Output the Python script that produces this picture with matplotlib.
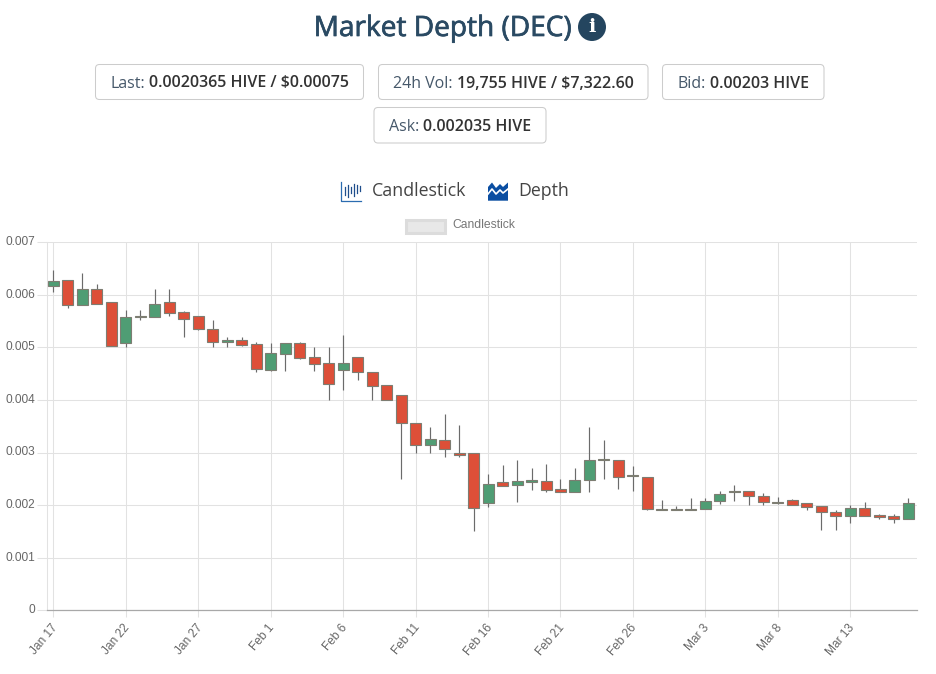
import numpy as np
import matplotlib
matplotlib.use("Agg")
import matplotlib.pyplot as plt
import matplotlib.patheffects as pe
from matplotlib.patches import Circle, FancyBboxPatch, Polygon, Rectangle
from matplotlib.transforms import ScaledTranslation

# values, x 0.001 HIVE
opens = [6.165, 6.29, 5.80, 6.12, 5.855, 5.09, 5.57, 5.58, 5.855, 5.665,
         5.60, 5.36, 5.095, 5.15, 5.057, 4.576, 4.873, 5.076, 4.81, 4.696,
         4.576, 4.823, 4.53, 4.28, 4.095, 3.563, 3.14, 3.234, 2.995, 3.0,
         2.05, 2.434, 2.377, 2.434, 2.465, 2.30, 2.245, 2.47, 2.85, 2.86,
         2.565, 2.538, 1.93, 1.925, 1.93, 1.924, 2.076, 2.25, 2.278, 2.177,
         2.055, 2.089, 2.038, 1.975, 1.867, 1.79, 1.95, 1.81, 1.79, 1.728]
closes = [6.266, 5.80, 6.12, 5.82, 5.02, 5.58, 5.585, 5.82, 5.66, 5.55,
          5.354, 5.095, 5.15, 5.05, 4.582, 4.886, 5.076, 4.797, 4.69, 4.31,
          4.696, 4.525, 4.27, 4.0, 3.557, 3.14, 3.266, 3.063, 2.96, 1.94,
          2.396, 2.358, 2.453, 2.47, 2.29, 2.245, 2.47, 2.868, 2.87, 2.54,
          2.55, 1.924, 1.915, 1.91, 1.915, 2.076, 2.22, 2.27, 2.165, 2.057,
          2.045, 2.0, 1.962, 1.861, 1.79, 1.95, 1.79, 1.772, 1.728, 2.038]
highs = [6.468, 6.29, 6.42, 6.215, 5.855, 5.72, 5.72, 6.11, 6.11, 5.70,
         5.60, 5.52, 5.19, 5.19, 5.095, 5.076, 5.076, 5.108, 5.0, 5.0,
         5.23, 4.823, 4.53, 4.28, 4.095, 3.563, 3.48, 3.728, 3.52, 3.0,
         2.585, 2.755, 2.868, 2.70, 2.79, 2.49, 2.70, 3.49, 3.233, 2.86,
         2.747, 2.538, 2.10, 1.987, 2.14, 2.133, 2.266, 2.386, 2.278, 2.228,
         2.152, 2.114, 2.038, 1.987, 1.905, 2.0, 2.063, 1.83, 1.83, 2.127]
lows = [6.057, 5.75, 5.80, 5.82, 5.02, 5.0, 5.52, 5.57, 5.595, 5.20,
        5.34, 5.01, 5.0, 5.03, 4.525, 4.56, 4.557, 4.78, 4.557, 4.0,
        4.20, 4.38, 4.0, 4.0, 2.5, 3.0, 3.0, 2.924, 2.92, 1.51,
        1.956, 2.358, 2.057, 2.29, 2.245, 2.245, 2.245, 2.258, 2.497, 2.31,
        2.26, 1.905, 1.905, 1.9, 1.905, 1.924, 2.013, 2.07, 2.006, 2.006,
        2.013, 1.995, 1.90, 1.52, 1.532, 1.652, 1.785, 1.734, 1.67, 1.728]

x_tick_days = [0, 5, 10, 15, 20, 25, 30, 35, 40, 45, 50, 55]
x_tick_labels = ["Jan 17", "Jan 22", "Jan 27", "Feb 1", "Feb 6", "Feb 11",
                 "Feb 16", "Feb 21", "Feb 26", "Mar 3", "Mar 8", "Mar 13"]
y_ticks = [0, 0.001, 0.002, 0.003, 0.004, 0.005, 0.006, 0.007]
y_tick_labels = ["0", "0.001", "0.002", "0.003", "0.004", "0.005", "0.006", "0.007"]

UI_FONT = "Open Sans"
CHART_FONT = "Liberation Sans"
GREEN = "#4f9d74"
RED = "#dd4f38"
GRID = "#e2e2e2"

W, H = 936, 674
fig = plt.figure(figsize=(W / 100, H / 100), dpi=100)

# chart
ax = fig.add_axes([46.5 / W, 1 - 610.3 / H, (917 - 46.5) / W, (610.3 - 242.3) / H])
days = np.arange(len(opens))
o = np.array(opens) / 1000
c = np.array(closes) / 1000
hi = np.array(highs) / 1000
lo = np.array(lows) / 1000
colors = [GREEN if b >= a else RED for a, b in zip(o, c)]

ax.vlines(days, lo, hi, color="#6b6b6b", lw=0.85, zorder=3)
ax.bar(days, np.maximum(np.abs(c - o), 0.00002), bottom=np.minimum(o, c), width=0.76,
       color=colors, edgecolor="#7d7d72", linewidth=0.8, zorder=4)

ax.set_xlim(-0.468, 59.6)
ax.set_ylim(0, 0.007)
ax.set_xticks(x_tick_days)
ax.set_xticklabels(x_tick_labels, rotation=50, ha="right", va="center", rotation_mode="anchor",
                   family=CHART_FONT, fontsize=8.6, color="#666666")
ax.set_yticks(y_ticks)
ax.set_yticklabels(y_tick_labels, family=CHART_FONT, fontsize=8.6, color="#666666")
ax.tick_params(axis="x", length=5, width=0.75, color=GRID, pad=6)
ax.tick_params(axis="y", length=7, width=0.75, color=GRID, pad=1)
ax.grid(True, color=GRID, lw=0.75)
ax.set_axisbelow(True)
for side in ["top", "right"]:
    ax.spines[side].set_visible(False)
ax.spines["left"].set_color(GRID)
ax.spines["left"].set_linewidth(0.75)
ax.spines["bottom"].set_color("#a8a8a8")
ax.spines["bottom"].set_linewidth(0.9)

# y labels sit a little above their gridlines in the reference, x labels a bit to the right
lift = ScaledTranslation(0, 1.7 / 100, fig.dpi_scale_trans)
for label in ax.get_yticklabels():
    label.set_transform(label.get_transform() + lift)
nudge = ScaledTranslation(2.0 / 100, 0, fig.dpi_scale_trans)
for label in ax.get_xticklabels():
    label.set_transform(label.get_transform() + nudge)

# page furniture around the chart, in pixel coords
ui = fig.add_axes([0, 0, 1, 1], zorder=5)
ui.set_xlim(0, W)
ui.set_ylim(H, 0)
ui.axis("off")
ui.patch.set_alpha(0)

ui.text(442.5, 29, "Market Depth (DEC)", family=UI_FONT, fontsize=20.2,
        color="#2a4a63", ha="center", va="center",
        path_effects=[pe.withStroke(linewidth=0.5, foreground="#2a4a63")])
ui.add_patch(Circle((592, 27), 14, color="#24455f", lw=0))
ui.text(592, 27, "i", family="DejaVu Serif", fontsize=14, weight="bold", color="white",
        ha="center", va="center")

renderer = fig.canvas.get_renderer()


def stat_box(x0, x1, y0, y1, label, value):
    ui.add_patch(FancyBboxPatch((x0 + 4, y0 + 4), x1 - x0 - 8, y1 - y0 - 8,
                                boxstyle="round,pad=4,rounding_size=4",
                                fc="white", ec="#cccccc", lw=0.75))
    base = (y0 + y1) / 2 + 5.5
    t1 = ui.text(0, base, label, family=UI_FONT, fontsize=11.5, color="#46586a", va="baseline")
    t2 = ui.text(0, base, value, family=UI_FONT, fontsize=11.5, weight="semibold",
                 color="#333333", va="baseline")
    w1 = t1.get_window_extent(renderer).width
    w2 = t2.get_window_extent(renderer).width
    start = (x0 + x1) / 2 - (w1 + 4 + w2) / 2
    t1.set_x(start)
    t2.set_x(start + w1 + 4)


stat_box(95.5, 363.5, 64.5, 99.5, "Last:", "0.0020365 HIVE / $0.00075")
stat_box(378.5, 648, 64.5, 99.5, "24h Vol:", "19,755 HIVE / $7,322.60")
stat_box(662.5, 824, 64.5, 99.5, "Bid:", "0.00203 HIVE")
stat_box(374, 546, 107.5, 143, "Ask:", "0.002035 HIVE")

# tab icons
ui.plot([341, 341, 361], [182, 200.5, 200.5], color="#2b6cb0", lw=0.9)
for xi, ya, yb in [(345, 187, 195), (348, 185, 197), (351, 187, 193), (354, 184, 196), (357, 185, 193), (359.5, 186, 191)]:
    ui.plot([xi, xi], [ya, yb], color="#1f4e8c", lw=0.9)
ui.add_patch(Polygon([(488, 187), (492, 182.5), (496, 188), (500, 184), (503, 187), (508, 182.5),
                      (508, 200.7), (488, 200.7)], fc="#0b4ea2", ec="none"))
ui.plot([488, 492, 496, 500, 503, 508], [194, 189, 194, 190, 193, 189], color="white", lw=1.2)
ui.text(372, 191, "Candlestick", family=UI_FONT, fontsize=12.8, color="#444444",
        va="center")
ui.text(518, 191, "Depth", family=UI_FONT, fontsize=12.8, color="#444444", va="center")

# chart.js style legend
ui.add_patch(Rectangle((406, 220), 39, 12.5, fc="#e8e8e8", ec="#dcdcdc", lw=2.2))
ui.text(452, 225.5, "Candlestick", family=CHART_FONT, fontsize=8.7, color="#777777",
        va="center")

fig.savefig("out.png", dpi=100)
plt.close(fig)
